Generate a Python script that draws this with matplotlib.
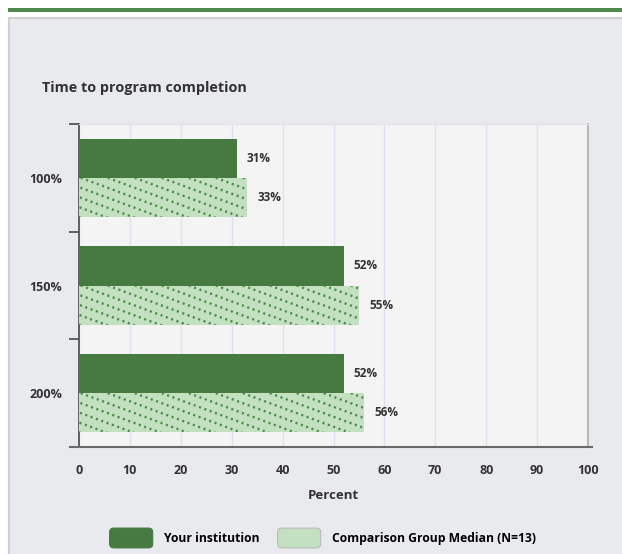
import numpy as np
import matplotlib
matplotlib.use("Agg")
import matplotlib.pyplot as plt
from matplotlib.patches import Rectangle, FancyBboxPatch, Patch
from matplotlib.lines import Line2D
from matplotlib.transforms import IdentityTransform
from matplotlib.legend_handler import HandlerPatch

# data
categories = ["100%", "150%", "200%"]
your_institution = [31, 52, 52]
comparison_median = [33, 55, 56]
x_ticks = [0, 10, 20, 30, 40, 50, 60, 70, 80, 90, 100]
series_names = ["Your institution", "Comparison Group Median (N=13)"]

DARK = "#467a41"
LIGHT = "#c3e0c1"
DOTS = "#4f8c4c"
TEXT = "#333333"

plt.rcParams["font.family"] = ["Open Sans", "DejaVu Sans"]
plt.rcParams["font.weight"] = "bold"

W, H = 622, 554
fig = plt.figure(figsize=(W / 100, H / 100), dpi=100)
fig.patch.set_facecolor("white")

# green strip and grey panel
fig.add_artist(Rectangle((8 / W, 1 - 12 / H), 1, 4 / H, transform=fig.transFigure,
                         facecolor="#4e8a4e", edgecolor="none", zorder=-2))
fig.add_artist(Rectangle((8.5 / W, -0.01), 1, 1 - 17.5 / H + 0.01, transform=fig.transFigure,
                         facecolor="#e9eaee", edgecolor="#cfcfcf", linewidth=1.5, zorder=-2))

fig.text(42 / W, 1 - 88 / H, "Time to program completion", fontsize=10.4,
         color=TEXT, va="center", ha="left", fontweight="bold")

ax = fig.add_axes([79 / W, 107 / H, 509 / W, 323 / H])
ax.set_facecolor("#f4f4f4")

y = np.arange(len(categories))
h = 0.365
bars1 = ax.barh(y - h / 2, your_institution, height=h, color=DARK, zorder=3)
bars2 = ax.barh(y + h / 2, comparison_median, height=h, color=LIGHT, zorder=3)

for b, v in zip(bars1, your_institution):
    ax.text(v + 2.0, b.get_y() + b.get_height() / 2, f"{v}%", va="center", ha="left",
            fontsize=8.5, color=TEXT, fontweight="bold")
for b, v in zip(bars2, comparison_median):
    ax.text(v + 2.0, b.get_y() + b.get_height() / 2, f"{v}%", va="center", ha="left",
            fontsize=8.5, color=TEXT, fontweight="bold")

ax.set_xlim(0, 100)
ax.set_ylim(len(categories) - 0.5, -0.5)
ax.set_xticks(x_ticks)
ax.set_xticklabels([str(t) for t in x_ticks], fontsize=9, color=TEXT, fontweight="bold")
ax.tick_params(axis="x", length=0, pad=12)
ax.set_yticks(np.arange(len(categories) + 1) - 0.5)
ax.set_yticklabels([])
ax.tick_params(axis="y", which="major", length=7, width=1.3, color="#555555", direction="out")
ax.set_yticks(y, minor=True)
ax.set_yticklabels(categories, minor=True, fontsize=9, color=TEXT, fontweight="bold")
ax.tick_params(axis="y", which="minor", length=0, pad=12)
ax.xaxis.grid(True, color="#dde3ee", linewidth=1, zorder=0)
ax.set_axisbelow(True)

ax.spines["top"].set_color("#e2e2e2")
ax.spines["right"].set_color("#b8b8b8")
ax.spines["right"].set_linewidth(1.5)
ax.spines["left"].set_color("#555555")
ax.spines["left"].set_linewidth(1.3)
ax.spines["bottom"].set_visible(False)
ax.add_line(Line2D([-0.018, 1.008], [0, 0], transform=ax.transAxes, color="#6a6a6a",
                   linewidth=1.5, clip_on=False, zorder=5))

ax.set_xlabel("Percent", fontsize=9.5, color=TEXT, fontweight="bold", labelpad=9)

# dotted diagonal pattern on the comparison bars
fig.canvas.draw()
for b in bars2:
    bb = b.get_window_extent()
    slope = -0.37
    step = 27
    x0 = bb.x0 - (bb.height / -slope) - step
    while x0 < bb.x1 + step:
        xs = np.array([x0, x0 + 2 * bb.height / -slope + 2 * step])
        ys = bb.y1 + slope * (xs - x0)
        ln = Line2D(xs, ys, transform=IdentityTransform(), color=DOTS, linewidth=1.7,
                    linestyle=(0, (0.9, 1.5)), zorder=4)
        ln.set_clip_path(b)
        fig.add_artist(ln)
        x0 += step


class RoundHandler(HandlerPatch):
    def create_artists(self, legend, orig_handle, xdescent, ydescent, width, height,
                       fontsize, trans):
        p = FancyBboxPatch((-xdescent + 1, -ydescent + 1), width - 2, height - 2,
                           boxstyle="round,pad=0,rounding_size=3",
                           facecolor=orig_handle.get_facecolor(),
                           edgecolor="#bbbbbb" if orig_handle.get_label() == series_names[1] else DARK,
                           linewidth=0.8, transform=trans)
        return [p]


handles = [Patch(facecolor=DARK, label=series_names[0]),
           Patch(facecolor=LIGHT, label=series_names[1])]
fig.legend(handles=handles, loc="center", bbox_to_anchor=(322 / W, 1 - 538 / H),
           ncol=2, frameon=False, fontsize=8.7, handlelength=3.8, handleheight=2.5,
           columnspacing=1.4, handletextpad=0.8,
           handler_map={Patch: RoundHandler()})

fig.savefig("out.png", dpi=100)
